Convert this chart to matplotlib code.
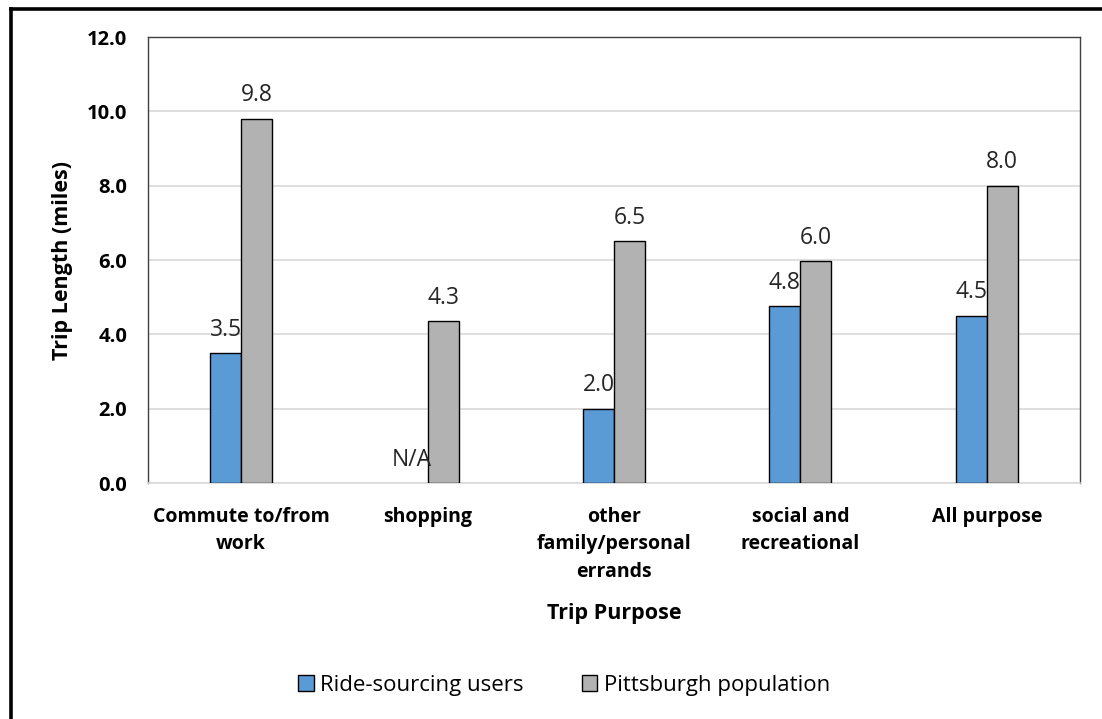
import numpy as np
import matplotlib
matplotlib.use("Agg")
import matplotlib.pyplot as plt
from matplotlib.lines import Line2D

plt.rcParams['font.family'] = ['Open Sans', 'DejaVu Sans']

categories = ["Commute to/from\nwork", "shopping", "other\nfamily/personal\nerrands",
              "social and\nrecreational", "All purpose"]
ride_sourcing = [3.5, np.nan, 2.0, 4.75, 4.5]
ride_labels = ["3.5", "N/A", "2.0", "4.8", "4.5"]
pittsburgh = [9.8, 4.35, 6.5, 5.97, 8.0]
pitt_labels = ["9.8", "4.3", "6.5", "6.0", "8.0"]
yticks = [0, 2, 4, 6, 8, 10, 12]

fig = plt.figure(figsize=(11.02, 7.19), dpi=100)
ax = fig.add_axes([0.1343, 0.3282, 0.8457, 0.6203])

x = np.arange(len(categories))
w = 0.166
# no ride-sourcing value for shopping: the NaN bar is simply not drawn
blue = ax.bar(x - w / 2, ride_sourcing, w, color="#5B9BD5",
              edgecolor="black", linewidth=1.0, label="Ride-sourcing users", zorder=3)
gray = ax.bar(x + w / 2, pittsburgh, w, color="#B2B2B2",
              edgecolor="black", linewidth=1.0, label="Pittsburgh population", zorder=3)

# value labels sit a fixed distance above each bar
for xi, v, t in zip(x, ride_sourcing, ride_labels):
    v = 0 if np.isnan(v) else v
    ax.annotate(t, (xi - w / 2, v), xytext=(0, 12.5), textcoords="offset points",
                ha="center", va="baseline", fontsize=16.5, color="#262626", zorder=4)
for xi, v, t in zip(x, pittsburgh, pitt_labels):
    ax.annotate(t, (xi + w / 2, v), xytext=(0, 12.5), textcoords="offset points",
                ha="center", va="baseline", fontsize=16.5, color="#262626", zorder=4)

ax.set_xlim(-0.5, len(categories) - 0.5)
ax.set_ylim(0, 12)
ax.set_yticks(yticks)
ax.set_yticklabels([f"{t:.1f}" for t in yticks], fontsize=14.5, fontweight="bold")
ax.set_xticks(x)
ax.set_xticklabels(categories, fontsize=14, fontweight="bold", linespacing=1.5, va="top")
ax.tick_params(axis="both", length=0)
ax.tick_params(axis="x", pad=17)
ax.tick_params(axis="y", pad=15)
ax.grid(axis="y", color="#d9d9d9", linewidth=1.2, zorder=0)

for s in ["left", "right", "top"]:
    ax.spines[s].set_color("#404040")
    ax.spines[s].set_linewidth(1.0)
ax.spines["bottom"].set_color("#d9d9d9")
ax.spines["bottom"].set_linewidth(1.2)

ax.set_ylabel("Trip Length (miles)", fontsize=15.5, fontweight="bold")
ax.yaxis.set_label_coords(-0.08, 0.5)
ax.set_xlabel("Trip Purpose", fontsize=15.5, fontweight="bold")
ax.xaxis.set_label_coords(0.5, -0.268)

fig.legend(handles=[blue, gray], loc="center", bbox_to_anchor=(0.512, 0.047),
           ncol=2, frameon=False, fontsize=16, handlelength=0.7, handleheight=0.7,
           handletextpad=0.3, columnspacing=2.6)

# outer frame on the left and top edges
fig.add_artist(Line2D([10.5 / 1102, 10.5 / 1102], [0, 1 - 8.5 / 719],
                      transform=fig.transFigure, color="black", linewidth=2.6))
fig.add_artist(Line2D([10.5 / 1102, 1], [1 - 8.5 / 719, 1 - 8.5 / 719],
                      transform=fig.transFigure, color="black", linewidth=2.6))

fig.savefig("out.png", dpi=100)
